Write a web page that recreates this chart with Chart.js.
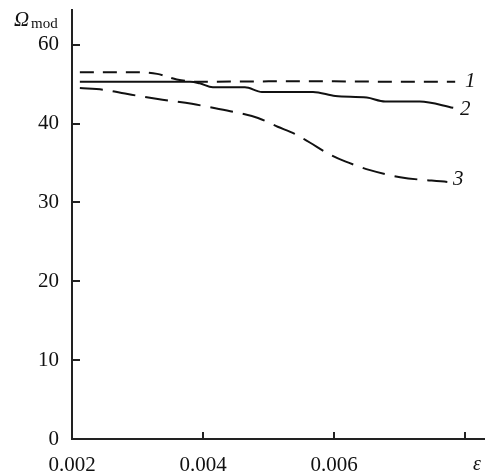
<!DOCTYPE html>
<html>
<head>
<meta charset="utf-8">
<script src="https://cdn.jsdelivr.net/npm/chart.js@4.4.1/dist/chart.umd.min.js"></script>
<style>
  html, body { margin: 0; padding: 0; background: #fff; }
  #wrap { width: 486px; height: 474px; }
</style>
</head>
<body>
<div id="wrap"><canvas id="c" width="486" height="474"></canvas></div>
<script>
// strain values (x) and Omega_mod values (y, in plotted axis position units)
const eps1 = [0.00212, 0.0030, 0.0033, 0.0036, 0.0039, 0.0050, 0.0060, 0.0070, 0.00785];
const omega1 = [46.5, 46.5, 46.3, 45.6, 45.3, 45.35, 45.35, 45.3, 45.3];

const eps2 = [0.00212, 0.0038, 0.00395, 0.00415, 0.00464, 0.0049, 0.00568, 0.00602, 0.0065, 0.00678, 0.00731, 0.00782];
const omega2 = [45.3, 45.3, 45.1, 44.6, 44.6, 44.0, 44.0, 43.5, 43.3, 42.8, 42.8, 42.0];

const eps3 = [0.00212, 0.00247, 0.00281, 0.00331, 0.00383, 0.00415, 0.00446, 0.00484, 0.00514, 0.0054, 0.00563, 0.00591, 0.00617, 0.00655, 0.00701, 0.00773];
const omega3 = [44.5, 44.3, 43.8, 43.1, 42.5, 42.0, 41.5, 40.7, 39.6, 38.7, 37.6, 36.2, 35.2, 34.1, 33.2, 32.6];

const curveNames = ['1', '2', '3'];
const xTickValues = [0.002, 0.004, 0.006, 0.008];
const xTickLabels = ['0.002', '0.004', '0.006', ''];
const yTickValues = [0, 10, 20, 30, 40, 50];
const yTickLabels = ['0', '10', '20', '30', '40', '60'];

const SERIF = '"Liberation Serif", "DejaVu Serif", serif';
const INK = '#111';

function pts(xs, ys) {
  return xs.map((x, i) => ({ x: x, y: ys[i] }));
}

// inward tick marks, curve numbers and axis titles
const decorations = {
  id: 'decorations',
  afterDraw(chart) {
    const ctx = chart.ctx;
    const xs = chart.scales.x;
    const ys = chart.scales.y;
    const area = chart.chartArea;
    ctx.save();
    ctx.strokeStyle = '#222';
    ctx.lineWidth = 2;
    xTickValues.slice(1).forEach(v => {
      const px = Math.round(xs.getPixelForValue(v));
      ctx.beginPath();
      ctx.moveTo(px, area.bottom);
      ctx.lineTo(px, area.bottom - 7);
      ctx.stroke();
    });
    yTickValues.slice(1).forEach(v => {
      const py = Math.round(ys.getPixelForValue(v));
      ctx.beginPath();
      ctx.moveTo(area.left, py);
      ctx.lineTo(area.left + 8, py);
      ctx.stroke();
    });

    // curve numbers beside the line ends
    ctx.fillStyle = INK;
    ctx.font = 'italic 21px ' + SERIF;
    ctx.textAlign = 'center';
    ctx.textBaseline = 'middle';
    const ends = [[eps1, omega1, 15, 0], [eps2, omega2, 12, 2], [eps3, omega3, 11, -2]];
    ends.forEach((e, i) => {
      const n = e[0].length - 1;
      const px = xs.getPixelForValue(e[0][n]) + e[2];
      const py = ys.getPixelForValue(e[1][n]) + e[3];
      ctx.fillText(curveNames[i], px, py);
    });

    // axis titles
    ctx.textAlign = 'left';
    ctx.textBaseline = 'alphabetic';
    ctx.font = 'italic 21px ' + SERIF;
    ctx.fillText('Ω', 14, 26);
    ctx.font = '15px ' + SERIF;
    ctx.fillText('mod', 31, 28);
    ctx.font = 'italic 20px ' + SERIF;
    ctx.textAlign = 'center';
    ctx.fillText('ε', xs.getPixelForValue(0.008) + 12, 470);
    ctx.restore();
  }
};

new Chart(document.getElementById('c'), {
  type: 'line',
  data: {
    datasets: [
      {
        label: curveNames[0],
        data: pts(eps1, omega1),
        borderColor: INK,
        borderWidth: 2,
        borderDash: [14, 9],
        pointRadius: 0,
        cubicInterpolationMode: 'monotone',
        fill: false
      },
      {
        label: curveNames[1],
        data: pts(eps2, omega2),
        borderColor: INK,
        borderWidth: 2,
        pointRadius: 0,
        cubicInterpolationMode: 'monotone',
        fill: false
      },
      {
        label: curveNames[2],
        data: pts(eps3, omega3),
        borderColor: INK,
        borderWidth: 2,
        borderDash: [23, 10],
        pointRadius: 0,
        cubicInterpolationMode: 'monotone',
        fill: false
      }
    ]
  },
  options: {
    responsive: false,
    animation: false,
    layout: { padding: { top: 10, right: 2, left: 0, bottom: 0 } },
    plugins: {
      legend: { display: false },
      tooltip: { enabled: false },
      title: { display: false }
    },
    scales: {
      x: {
        type: 'linear',
        min: 0.002,
        max: 0.00829,
        afterBuildTicks: s => { s.ticks = xTickValues.map(v => ({ value: v })); },
        afterFit: s => { s.height = 35; s.paddingLeft = 0; s.paddingRight = 0; },
        grid: { display: false, drawTicks: false },
        border: { display: true, color: '#222', width: 2 },
        ticks: {
          color: INK,
          padding: 14,
          maxRotation: 0,
          autoSkip: false,
          font: { family: SERIF, size: 21 },
          callback: v => xTickLabels[xTickValues.indexOf(v)] ?? ''
        }
      },
      y: {
        type: 'linear',
        min: 0,
        max: 54.4,
        afterBuildTicks: s => { s.ticks = yTickValues.map(v => ({ value: v })); },
        afterFit: s => { s.width = 72; s.paddingTop = 0; s.paddingBottom = 0; },
        grid: { display: false, drawTicks: false },
        border: { display: true, color: '#222', width: 2 },
        ticks: {
          color: INK,
          padding: 13,
          autoSkip: false,
          font: { family: SERIF, size: 21 },
          callback: v => yTickLabels[yTickValues.indexOf(v)] ?? ''
        }
      }
    }
  },
  plugins: [decorations]
});
</script>
</body>
</html>
